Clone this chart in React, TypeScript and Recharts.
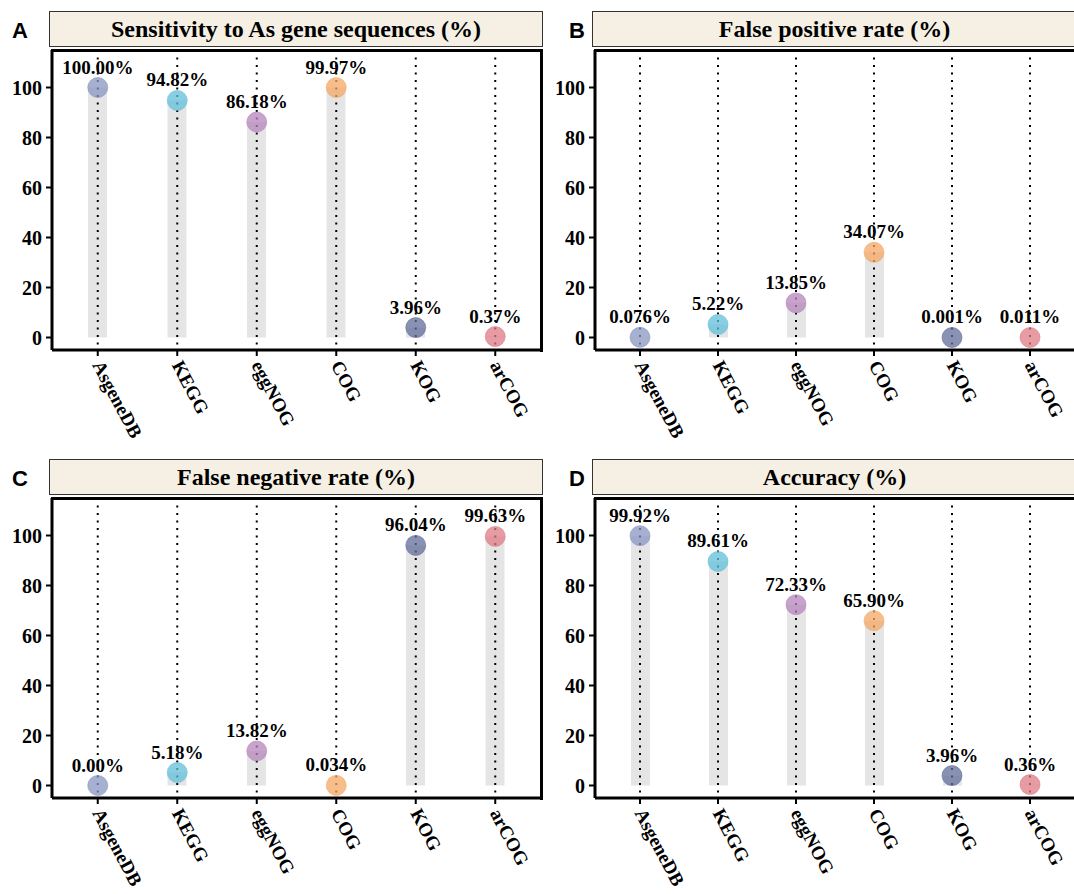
import React from 'react';
import {Bar, CartesianGrid, ComposedChart, Scatter, XAxis, YAxis} from 'recharts';

const categories = ['AsgeneDB', 'KEGG', 'eggNOG', 'COG', 'KOG', 'arCOG'];
const dotColors = ['#8896c0', '#60bfda', '#b686bb', '#f4a866', '#636e9b', '#de7b83'];
const yTicks = [0, 20, 40, 60, 80, 100];

const sensitivity = [100, 94.82, 86.18, 99.97, 3.96, 0.37];
const sensitivityLabels = ['100.00%', '94.82%', '86.18%', '99.97%', '3.96%', '0.37%'];

const falsePositive = [0.076, 5.22, 13.85, 34.07, 0.001, 0.011];
const falsePositiveLabels = ['0.076%', '5.22%', '13.85%', '34.07%', '0.001%', '0.011%'];

const falseNegative = [0, 5.18, 13.82, 0.034, 96.04, 99.63];
const falseNegativeLabels = ['0.00%', '5.18%', '13.82%', '0.034%', '96.04%', '99.63%'];

const accuracy = [99.92, 89.61, 72.33, 65.9, 3.96, 0.36];
const accuracyLabels = ['99.92%', '89.61%', '72.33%', '65.90%', '3.96%', '0.36%'];

const serif = '"Liberation Serif", "Times New Roman", serif';
const sans = '"Liberation Sans", Arial, sans-serif';

const XTick = (props: any) => {
    const {x, y, payload} = props;
    const ty = y + 4;
    return (
        <text x={x} y={ty} dy="0.35em" textAnchor="start" transform={`rotate(62 ${x} ${ty})`}
              fontFamily={serif} fontWeight="bold" fontSize={19} fill="#000">
            {payload.value}
        </text>
    );
};

const Dot = (props: any) => {
    const {cx, cy, payload} = props;
    return (
        <g>
            <circle cx={cx} cy={cy} r={10} fill={payload.color} fillOpacity={0.75} stroke={payload.color} strokeOpacity={0.6} strokeWidth={1}/>
            <text x={cx} y={cy - 14} textAnchor="middle" fontFamily={serif} fontWeight="bold" fontSize={19} fill="#000">
                {payload.label}
            </text>
        </g>
    );
};

const Panel = (props: {left: number, top: number, plotW: number, letter: string, title: string, values: number[], labels: string[]}) => {
    const {left, top, plotW, letter, title, values, labels} = props;
    const data = categories.map((name, i) => ({name, value: values[i], label: labels[i], color: dotColors[i]}));
    return (
        <>
            <div style={{position: 'absolute', left: left + (letter === 'A' || letter === 'C' ? 12 : 26), top: top + 20,
                fontFamily: sans, fontWeight: 'bold', fontSize: 22, lineHeight: '22px'}}>{letter}</div>
            <div style={{position: 'absolute', left: left + 49, top: top + 11, width: plotW + 5, height: 36,
                boxSizing: 'border-box', border: '1.5px solid #333', background: '#f5f0e3',
                display: 'flex', alignItems: 'center', justifyContent: 'center',
                fontFamily: serif, fontWeight: 'bold', fontSize: 24}}>{title}</div>
            <div style={{position: 'absolute', left: left}}>
                <div style={{position: 'absolute', top: top}}>
                    <ComposedChart width={52 + plotW + 4} height={450} data={data}
                                   margin={{top: 50, right: 4, left: 0, bottom: 10}}>
                        <CartesianGrid horizontal={false} stroke="#000" strokeWidth={2} strokeDasharray="2 5.5"/>
                        <XAxis dataKey="name" interval={0} height={90} padding={{left: 6, right: 6}}
                               axisLine={{stroke: '#000', strokeWidth: 3}} tickLine={{stroke: '#000', strokeWidth: 2}}
                               tickSize={6} tick={<XTick/>}/>
                        <YAxis type="number" domain={[-5, 115]} ticks={yTicks} width={52}
                               axisLine={{stroke: '#000', strokeWidth: 3}} tickLine={{stroke: '#000', strokeWidth: 2}}
                               tickSize={6} tick={{fill: '#000', fontSize: 20, fontWeight: 'bold', fontFamily: serif, dx: -2}}/>
                        <Bar dataKey="value" barSize={19} fill="#000" fillOpacity={0.1} isAnimationActive={false}/>
                        <Scatter dataKey="value" shape={<Dot/>} isAnimationActive={false}/>
                    </ComposedChart>
                </div>
            </div>
            <div style={{position: 'absolute', left: left + 52 - 1.5, top: top + 50 - 1.5, width: plotW + 3, height: 303,
                boxSizing: 'border-box', borderTop: '3px solid #000', borderRight: '3px solid #000', pointerEvents: 'none'}}/>
        </>
    );
};

export default function App() {
    return (
        <div style={{position: 'absolute', left: 0, top: 0, width: 1074, height: 894, overflow: 'hidden', background: '#fff'}}>
            <Panel left={0} top={0} plotW={489} letter="A" title="Sensitivity to As gene sequences (%)"
                   values={sensitivity} labels={sensitivityLabels}/>
            <Panel left={543} top={0} plotW={480} letter="B" title="False positive rate (%)"
                   values={falsePositive} labels={falsePositiveLabels}/>
            <Panel left={0} top={448} plotW={489} letter="C" title="False negative rate (%)"
                   values={falseNegative} labels={falseNegativeLabels}/>
            <Panel left={543} top={448} plotW={480} letter="D" title="Accuracy (%)"
                   values={accuracy} labels={accuracyLabels}/>
        </div>
    );
}
